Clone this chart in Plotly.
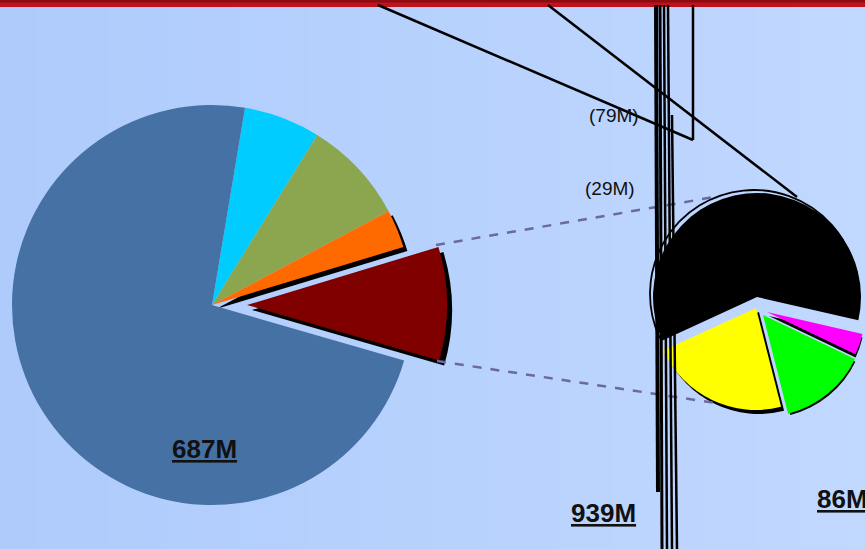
import plotly.graph_objects as go

W, H = 865, 549

# Main pie, clockwise from the first slice
primary_labels = ["Cyan", "Olive", "Orange", "Maroon", "Steel"]
primary_values = [58, 79, 29, 86, 687]
primary_colors = ["#00ccff", "#8ba64f", "#ff6a00", "#800000", "#4571a4"]

# Breakdown of the maroon slice (second pie)
secondary_labels = ["Black", "Magenta", "Green", "Yellow"]
secondary_values = [52, 3, 12, 19]
secondary_colors = ["#000000", "#ff00ff", "#00ff00", "#ffff00"]

BG_LEFT = (174, 203, 252)
BG_RIGHT = (193, 216, 255)
FONT = "Liberation Sans, Arial, sans-serif"


def px(x, y):
    return x / W, 1 - y / H


def dom(cx, cy, r):
    x0, x1 = (cx - r) / W, (cx + r) / W
    y0, y1 = 1 - (cy + r) / H, 1 - (cy - r) / H
    c = lambda v: min(1.0, max(0.0, v))
    return dict(x=[c(x0), c(x1)], y=[c(y0), c(y1)])


def pie_layer(labels, values, colors, show, center, r, rotation,
              fill=None, line_color="#000000", line_width=0):
    cols, widths = [], []
    for i in range(len(values)):
        if i in show:
            cols.append(fill if fill is not None else colors[i])
            widths.append(line_width)
        else:
            cols.append("rgba(0,0,0,0)")
            widths.append(0)
    return go.Pie(
        labels=labels, values=values, sort=False, direction="clockwise",
        rotation=rotation, domain=dom(center[0], center[1], r),
        marker=dict(colors=cols, line=dict(color=line_color, width=widths)),
        textinfo="none", hoverinfo="skip", showlegend=False,
    )


P_ROT = 9.5
S_ROT = 245.3
traces = []

# --- main pie -------------------------------------------------------------
# shadow under the orange slice
traces.append(pie_layer(primary_labels, primary_values, primary_colors, [2],
                        (216, 309), 200, P_ROT, fill="#000000"))
# body of the pie (maroon slice is drawn separately, exploded)
traces.append(pie_layer(primary_labels, primary_values, primary_colors, [0, 1, 2, 4],
                        (212, 305), 200, P_ROT))
# exploded maroon slice with its shadow
traces.append(pie_layer(primary_labels, primary_values, primary_colors, [3],
                        (252, 310), 200, P_ROT, fill="#000000"))
traces.append(pie_layer(primary_labels, primary_values, primary_colors, [3],
                        (247, 305), 200, P_ROT))

# --- second pie -------------------------------------------------------------
# thin outline ring around the black slice
traces.append(pie_layer(secondary_labels, secondary_values, secondary_colors, [0],
                        (754, 294), 104, S_ROT, fill="rgba(0,0,0,0)",
                        line_color="#000000", line_width=1.8))
traces.append(pie_layer(secondary_labels, secondary_values, secondary_colors, [0],
                        (757, 297), 104, S_ROT))
# shadows of the exploded slices
traces.append(pie_layer(secondary_labels, secondary_values, secondary_colors, [3],
                        (759, 312), 102, S_ROT, fill="#000000"))
traces.append(pie_layer(secondary_labels, secondary_values, secondary_colors, [2],
                        (766, 319), 99, S_ROT, fill="#000000"))
traces.append(pie_layer(secondary_labels, secondary_values, secondary_colors, [1],
                        (769, 316), 96, S_ROT, fill="#000000"))
# exploded slices
traces.append(pie_layer(secondary_labels, secondary_values, secondary_colors, [3],
                        (756, 308), 102, S_ROT))
traces.append(pie_layer(secondary_labels, secondary_values, secondary_colors, [2],
                        (763, 315), 102, S_ROT))
traces.append(pie_layer(secondary_labels, secondary_values, secondary_colors, [1],
                        (767, 312), 98, S_ROT))

fig = go.Figure(traces)

shapes = []
# horizontal background gradient
n = 48
for i in range(n):
    t = (i + 0.5) / n
    col = tuple(round(a + (b - a) * t) for a, b in zip(BG_LEFT, BG_RIGHT))
    shapes.append(dict(type="rect", xref="paper", yref="paper", layer="below",
                       x0=i / n, x1=(i + 1) / n + 0.002, y0=0, y1=1,
                       line=dict(width=0), fillcolor="rgb(%d,%d,%d)" % col))

# red title bar
for (ya, yb, c) in [(0, 7, "#c0121e"), (0, 2.5, "#8b0d12")]:
    x0, y0 = px(0, yb)
    x1, y1 = px(W, ya)
    shapes.append(dict(type="rect", xref="paper", yref="paper", layer="above",
                       x0=x0, x1=x1, y0=y0, y1=y1, line=dict(width=0), fillcolor=c))


def seg(p, q, width=2, color="#000000", dash="solid"):
    a, b = px(*p), px(*q)
    return dict(type="line", xref="paper", yref="paper", layer="above",
                x0=a[0], y0=a[1], x1=b[0], y1=b[1],
                line=dict(color=color, width=width, dash=dash))


# connector lines between the two pies
shapes.append(seg((436, 245), (720, 196), 2.5, "#6a6a9c", "dash"))
shapes.append(seg((437, 361), (722, 404), 2.5, "#6a6a9c", "dash"))

# leader lines
shapes.append(seg((378, 5), (693, 140), 2.5))
shapes.append(seg((693, 140), (693, 5), 2.5))
shapes.append(seg((548, 5), (797, 197), 2.5))
shapes.append(seg((656, 5), (658, 492), 4))
shapes.append(seg((660, 5), (662, 549), 3))
shapes.append(seg((664, 5), (667, 549), 2.5))
shapes.append(seg((668, 5), (672, 549), 2.5))
shapes.append(seg((672, 115), (677, 549), 2.5))

total_primary = sum(primary_values)
total_secondary = sum(secondary_values)


def ann(x, y, text, size, xanchor="center"):
    ax, ay = px(x, y)
    return dict(x=ax, y=ay, xref="paper", yref="paper", text=text, showarrow=False,
                xanchor=xanchor, yanchor="middle",
                font=dict(family=FONT, size=size, color="#111111"))


annotations = [
    ann(614, 116, "(%dM)" % primary_values[1], 19),
    ann(610, 188, "(%dM)" % primary_values[2], 19),
    ann(204, 449, "<b><u>%dM</u></b>" % primary_values[4], 26),
    ann(603, 513, "<b><u>%dM</u></b>" % total_primary, 26),
    ann(815, 499, "<b><u>%dM</u></b>" % total_secondary, 26, "left"),
]

fig.update_layout(
    width=W, height=H, margin=dict(l=0, r=0, t=0, b=0),
    paper_bgcolor="rgb(183,210,254)", plot_bgcolor="rgba(0,0,0,0)",
    shapes=shapes, annotations=annotations, showlegend=False,
)

fig.write_html("out.html")
